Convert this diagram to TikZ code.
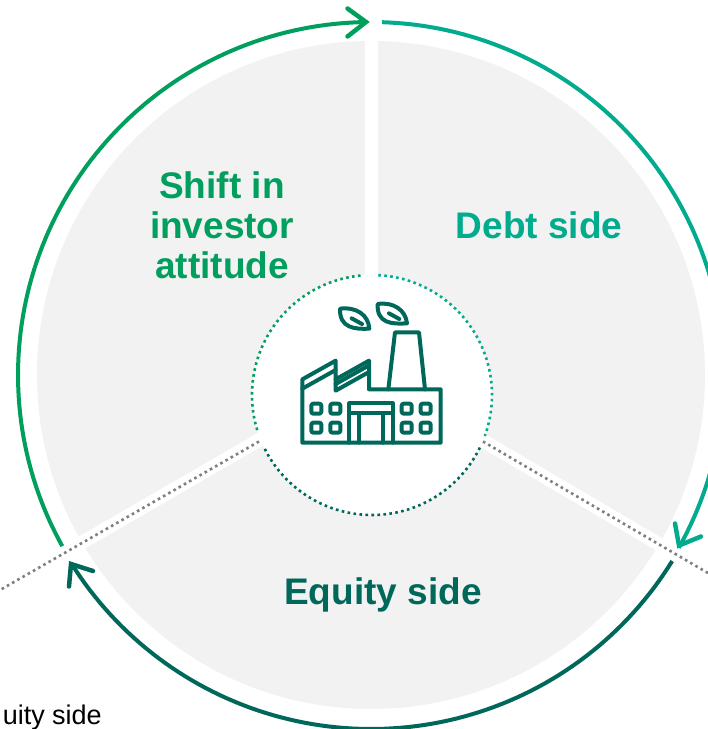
\documentclass[tikz,border=0pt]{standalone}
\usepackage{fontspec}
\setmainfont{Liberation Sans}
\definecolor{cgreen}{HTML}{009F5E}
\definecolor{cteal}{HTML}{00AB8E}
\definecolor{cdark}{HTML}{00685B}
\definecolor{cdisc}{HTML}{F2F2F2}
\definecolor{cgray}{HTML}{7F7F7F}
\tikzset{
  ringarc/.style={line width=4pt,line cap=butt},
  tipline/.style={line width=4.5pt,line cap=round,line join=miter},
  gapline/.style={white,line width=13.5pt},
  dotring/.style={line width=2.6pt,dash pattern=on 2.6pt off 3.4pt},
  dotline/.style={cgray,line width=2.6pt,dash pattern=on 2.6pt off 3.4pt},
  icon/.style={cdark,line width=4pt,line join=round,line cap=round},
  lbl/.style={font=\bfseries\fontsize{37}{40}\selectfont,align=center,inner sep=0pt,anchor=base}
}
\begin{document}
\begin{tikzpicture}[x=1pt,y=-1pt]
\useasboundingbox (0,0) rectangle (708,729);
\clip (0,0) rectangle (708,729);
% disc and gaps
\fill[cdisc] (371,375) circle[radius=334];
\coordinate (disccentre) at (371.5,375);
\coordinate (gaptop) at (371.5,30);
\coordinate (gapright) at (708,573);
\coordinate (gapleft) at (0,590);
\draw[gapline] (disccentre) -- (gaptop);
\draw[gapline] (disccentre) -- (gapright);
\draw[gapline] (disccentre) -- (gapleft);
\fill[white] (372,395) circle[radius=120];
% grey dotted rays
\coordinate (rayR) at (483,441.5);
\coordinate (rayL) at (259,441.5);
\draw[dotline] (rayR) -- (gapright);
\draw[dotline] (rayL) -- (gapleft);
% outer arcs
\draw[ringarc,cgreen] plot[domain=151:269.3,samples=90] ({371+353*cos(\x)},{375+353*sin(\x)});
\draw[ringarc,cteal] plot[domain=271.8:389.3,samples=90] ({371+353*cos(\x)},{375+353*sin(\x)});
\draw[ringarc,cdark] plot[domain=31.7:147.8,samples=90] ({371+354*cos(\x)},{375+354*sin(\x)});
% arrow tips
\draw[tipline,cgreen] (347.5,8.5) -- (366,22) -- (347.5,36.5);
\draw[tipline,cteal] (675,523.5) -- (679,545.5) -- (701,536.5);
\draw[tipline,cdark] (69,586.5) -- (71,564) -- (93,571);
% inner dotted ring
\draw[dotring,cteal] plot[domain=273:380,samples=80] ({372+120*cos(\x)},{395+120*sin(\x)});
\draw[dotring,cdark] plot[domain=26:154,samples=80] ({372+120*cos(\x)},{395+120*sin(\x)});
\draw[dotring,cgreen] plot[domain=163:266,samples=80] ({372+120*cos(\x)},{395+120*sin(\x)});
% labels
\node[lbl,cgreen] (shift) at (222,198) {Shift in};
\node[lbl,cgreen] (investor) at (222,238) {investor};
\node[lbl,cgreen] (attitude) at (222,278) {attitude};
\node[lbl,cteal] (debt) at (539,238) {Debt side};
\node[lbl,cdark] (equity) at (383,604) {Equity side};
\node[font=\fontsize{27}{30}\selectfont,inner sep=0pt,anchor=base east] (cut) at (102,724) {uity side};
% factory icon
\begin{scope}[shift={(240,260)},x=0.33333pt,y=-0.33333pt,icon]
\draw (187,358) -- (187,548) -- (602,548) -- (602,388) -- (387,388) -- (387,302) -- (287,358) -- (287,302) -- cycle;
\draw (287,358) -- (287,392) -- (387,336);
\draw (187,386) -- (287,330);
\draw (287,372) -- (387,316);
\draw (445,388) -- (465,217) -- (537,217) -- (555,388);
\draw (328,548) -- (328,430) -- (458,430) -- (458,548);
\draw (328,460) -- (458,460);
\draw (358,460) -- (358,548);
\draw (428,460) -- (428,548);
\foreach \wx/\wy in {229/446,286/446,229/503,286/503,500/446,557/446,500/503,557/503}
  \draw[rounded corners=2pt] (\wx-15,\wy-15) rectangle (\wx+15,\wy+15);
\draw (300,146) .. controls (350,140) and (385,165) .. (388,206) .. controls (345,208) and (298,205) .. cycle;
\draw (335,175) -- (366,192);
\draw (413,132) .. controls (460,125) and (497,150) .. (501,190) .. controls (455,193) and (410,190) .. cycle;
\draw (447,160) -- (478,177);
\end{scope}
\end{tikzpicture}
\end{document}
